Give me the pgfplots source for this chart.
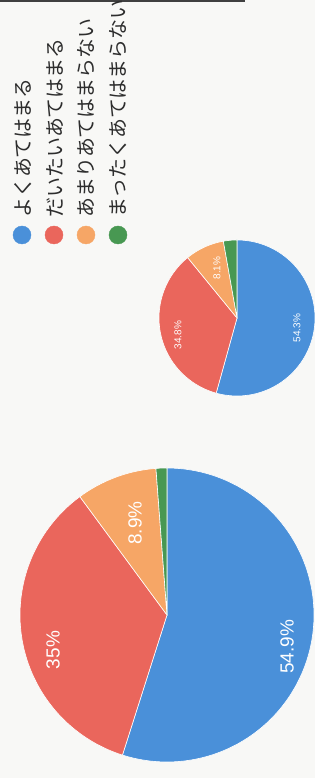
\documentclass[border=0pt]{standalone}
\usepackage{pgfplots}
\pgfplotsset{compat=1.18}
\usepackage{fontspec}
\setmainfont{Liberation Sans}
\newfontfamily\cjk{Noto Sans CJK JP}
\definecolor{cblue}{RGB}{74,144,217}
\definecolor{cred}{RGB}{234,102,92}
\definecolor{corange}{RGB}{246,166,102}
\definecolor{cgreen}{RGB}{72,152,82}
\definecolor{bg}{RGB}{248,248,246}
\definecolor{txt}{RGB}{45,45,45}
% slice: cx, cy, r, cumulative start %, cumulative end %, colour
\newcommand{\slice}[6]{%
  \pgfmathsetmacro{\aA}{90-3.6*#5}%
  \pgfmathsetmacro{\aB}{90-3.6*#4}%
  \addplot[fill=#6, draw=white, line width=0.6pt, domain=\aA:\aB, samples=90, variable=\t]
    ({#1+#3*cos(\t)},{#2+#3*sin(\t)}) -- (axis cs:#1,#2) -- cycle;}
\begin{document}
\begin{tikzpicture}
\begin{axis}[name=ax, scale only axis, width=315pt, height=778pt,
  xmin=0, xmax=315, ymin=0, ymax=778, hide axis, clip=true]
\addplot[fill=bg, draw=none] coordinates {(0,0) (315,0) (315,778) (0,778)} -- cycle;
\addplot[draw=black!75, line width=2pt] coordinates {(0,777) (245,777)};
% large pie: 54.9, 35.0, 8.9, 1.2
\slice{167}{163}{147}{0}{54.9}{cblue}
\slice{167}{163}{147}{54.9}{89.9}{cred}
\slice{167}{163}{147}{89.9}{98.8}{corange}
\slice{167}{163}{147}{98.8}{100}{cgreen}
% small pie: 54.3, 34.8, 8.1, 2.8
\slice{237}{460}{78}{0}{54.3}{cblue}
\slice{237}{460}{78}{54.3}{89.1}{cred}
\slice{237}{460}{78}{89.1}{97.2}{corange}
\slice{237}{460}{78}{97.2}{100}{cgreen}
% legend dots
\addplot[only marks, mark=*, mark size=9pt, color=cblue] coordinates {(22,543)};
\addplot[only marks, mark=*, mark size=9pt, color=cred] coordinates {(54,543)};
\addplot[only marks, mark=*, mark size=9pt, color=corange] coordinates {(86,543)};
\addplot[only marks, mark=*, mark size=9pt, color=cgreen] coordinates {(118,543)};
% legend texts
\node[rotate=90, anchor=west, inner sep=0pt, text=txt, font=\cjk\fontsize{20}{20}\selectfont] at (axis cs:23,560) {よくあてはまる};
\node[rotate=90, anchor=west, inner sep=0pt, text=txt, font=\cjk\fontsize{20}{20}\selectfont] at (axis cs:55,560) {だいたいあてはまる};
\node[rotate=90, anchor=west, inner sep=0pt, text=txt, font=\cjk\fontsize{20}{20}\selectfont] at (axis cs:86,560) {あまりあてはまらない};
\node[rotate=90, anchor=west, inner sep=0pt, text=txt, font=\cjk\fontsize{20}{20}\selectfont] at (axis cs:118,560) {まったくあてはまらない};
% slice labels
\node[rotate=90, text=white, font=\fontsize{19}{19}\selectfont] at (axis cs:287,131) {54.9\%};
\node[rotate=90, text=white, font=\fontsize{19}{19}\selectfont] at (axis cs:53,128) {35\%};
\node[rotate=90, text=white, font=\fontsize{19}{19}\selectfont] at (axis cs:135,255) {8.9\%};
\node[rotate=90, text=white, font=\fontsize{10}{10}\selectfont] at (axis cs:297,450) {54.3\%};
\node[rotate=90, text=white, font=\fontsize{10}{10}\selectfont] at (axis cs:178,443) {34.8\%};
\node[rotate=90, text=white, font=\fontsize{10}{10}\selectfont] at (axis cs:217,510) {8.1\%};
\end{axis}
\pgfresetboundingbox
\path (ax.south west) rectangle (ax.north east);
\end{tikzpicture}
\end{document}
